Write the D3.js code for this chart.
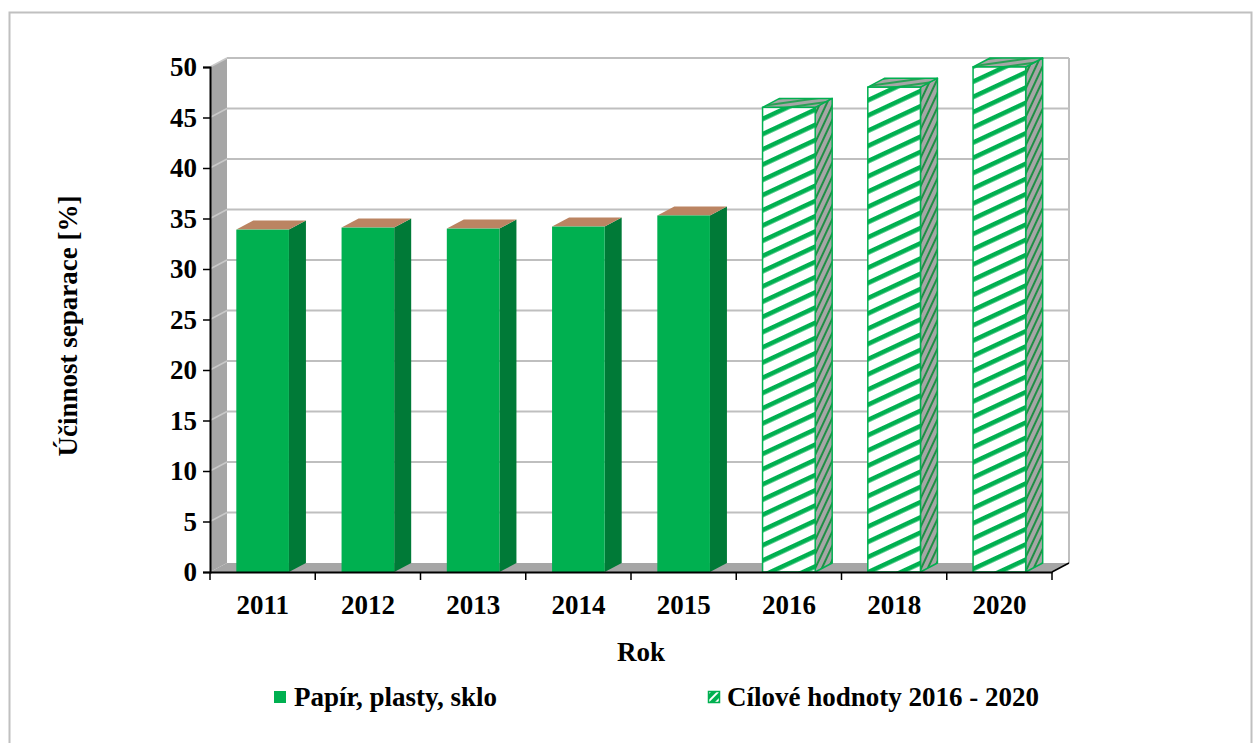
<!DOCTYPE html>
<html>
<head>
<meta charset="utf-8">
<script src="https://cdn.jsdelivr.net/npm/d3@7"></script>
<style>
  html, body { margin: 0; padding: 0; background: #fff; }
  svg { display: block; font-family: "Liberation Serif", "Times New Roman", serif; font-weight: bold; }
</style>
</head>
<body>
<svg id="chart" width="1255" height="743"></svg>
<script>
// ---- data ----
const categories = ["2011", "2012", "2013", "2014", "2015", "2016", "2018", "2020"];
const actualValues = [33.9, 34.1, 34.0, 34.2, 35.3, null, null, null];
const targetValues = [null, null, null, null, null, 46, 48, 50];
const yTickValues = [0, 5, 10, 15, 20, 25, 30, 35, 40, 45, 50];
const seriesNames = ["Papír, plasty, sklo", "Cílové hodnoty 2016 - 2020"];
const xTitle = "Rok";
const yTitle = "Účinnost separace [%]";

// ---- layout ----
const svg = d3.select("#chart");
const DX = 17, DY = -9;           // 3D depth offset
const x = d3.scaleBand().domain(categories).range([210, 1052]);
const y = d3.scaleLinear().domain([0, 50]).range([572, 67]);
const barFrac = 0.5;

const C = {
  front: "#00b050", side: "#007a37", top: "#bb8462",
  wall: "#a6a6a6", grid: "#bfbfbf", wallGrid: "#c9c9c9", hatch: "#00b050"
};

// ---- patterns ----
const defs = svg.append("defs");
const pf = defs.append("pattern").attr("id", "hatchFront")
  .attr("patternUnits", "userSpaceOnUse").attr("width", 14).attr("height", 13.8)
  .attr("patternTransform", "rotate(-25)");
pf.append("rect").attr("width", 14).attr("height", 13.8).attr("fill", "#fff");
pf.append("rect").attr("width", 14).attr("height", 4.6).attr("fill", C.hatch);

const ps = defs.append("pattern").attr("id", "hatchSide")
  .attr("patternUnits", "userSpaceOnUse").attr("width", 6).attr("height", 6)
  .attr("patternTransform", "rotate(-65)");
ps.append("rect").attr("width", 6).attr("height", 6).attr("fill", "#a6a6a6");
ps.append("rect").attr("width", 6).attr("height", 2).attr("fill", "#1f8f45");

const pt = defs.append("pattern").attr("id", "hatchTop")
  .attr("patternUnits", "userSpaceOnUse").attr("width", 6).attr("height", 5)
  .attr("patternTransform", "rotate(-8)");
pt.append("rect").attr("width", 6).attr("height", 5).attr("fill", "#a6a6a6");
pt.append("rect").attr("width", 6).attr("height", 2).attr("fill", "#2aa055");

const pl = defs.append("pattern").attr("id", "hatchLegend")
  .attr("patternUnits", "userSpaceOnUse").attr("width", 6).attr("height", 6)
  .attr("patternTransform", "rotate(-45)");
pl.append("rect").attr("width", 6).attr("height", 6).attr("fill", C.hatch);
pl.append("rect").attr("width", 6).attr("height", 2).attr("fill", "#fff");

// ---- outer border ----
svg.append("rect").attr("x", 9.5).attr("y", 12.5).attr("width", 1242).attr("height", 760)
  .attr("fill", "none").attr("stroke", "#c0c0c0").attr("stroke-width", 2);

const x0 = x.range()[0], x1 = x.range()[1];
const yB = y(0), yT = y(50);

// ---- walls ----
const pts = a => a.map(p => p.join(",")).join(" ");
// left wall
svg.append("polygon").attr("points", pts([[x0, yT], [x0 + DX, yT + DY], [x0 + DX, yB + DY], [x0, yB]]))
  .attr("fill", C.wall);
// floor
svg.append("polygon").attr("points", pts([[x0, yB], [x0 + DX, yB + DY], [x1 + DX, yB + DY], [x1, yB]]))
  .attr("fill", C.wall);
// back wall
svg.append("rect").attr("x", x0 + DX).attr("y", yT + DY).attr("width", x1 - x0).attr("height", yB - yT)
  .attr("fill", "#fff");

// gridlines on back wall and left wall
const grid = svg.append("g");
yTickValues.forEach(v => {
  if (v === 0) return;
  grid.append("line").attr("x1", x0 + DX).attr("x2", x1 + DX)
    .attr("y1", y(v) + DY).attr("y2", y(v) + DY)
    .attr("stroke", C.grid).attr("stroke-width", 2);
  grid.append("line").attr("x1", x0).attr("x2", x0 + DX)
    .attr("y1", y(v)).attr("y2", y(v) + DY)
    .attr("stroke", C.wallGrid).attr("stroke-width", 1.5);
});
// back wall right edge
svg.append("line").attr("x1", x1 + DX).attr("x2", x1 + DX).attr("y1", yT + DY).attr("y2", yB + DY)
  .attr("stroke", C.grid).attr("stroke-width", 2);

// ---- bars ----
function drawBar(g, cat, val, hatched) {
  const bw = x.bandwidth() * barFrac;
  const cx = x(cat) + x.bandwidth() / 2;
  const l = cx - bw / 2, r = cx + bw / 2;
  const t = y(val), b = y(0);
  const stroke = hatched ? C.hatch : "none";
  // side
  g.append("polygon").attr("points", pts([[r, t], [r + DX, t + DY], [r + DX, b + DY], [r, b]]))
    .attr("fill", hatched ? "url(#hatchSide)" : C.side)
    .attr("stroke", stroke).attr("stroke-width", 1.5).attr("stroke-linejoin", "round");
  // top
  g.append("polygon").attr("points", pts([[l, t], [l + DX, t + DY], [r + DX, t + DY], [r, t]]))
    .attr("fill", hatched ? "url(#hatchTop)" : C.top)
    .attr("stroke", stroke).attr("stroke-width", 1.5).attr("stroke-linejoin", "round");
  // front
  g.append("rect").attr("x", l).attr("y", t).attr("width", bw).attr("height", b - t)
    .attr("fill", hatched ? "url(#hatchFront)" : C.front)
    .attr("stroke", stroke).attr("stroke-width", 1.5);
}
const bars = svg.append("g");
categories.forEach((c, i) => {
  if (actualValues[i] != null) drawBar(bars, c, actualValues[i], false);
  if (targetValues[i] != null) drawBar(bars, c, targetValues[i], true);
});

// ---- axes ----
const yAxis = d3.axisLeft(y).tickValues(yTickValues).tickSize(7).tickPadding(6);
const gy = svg.append("g").attr("transform", `translate(${x0},0)`).call(yAxis);
gy.select(".domain").attr("stroke", "#000").attr("stroke-width", 2);
gy.selectAll(".tick line").attr("stroke", "#000").attr("stroke-width", 1.5);
gy.selectAll("text").attr("font-size", 27).attr("font-family", "Liberation Serif").attr("font-weight", "bold").attr("fill", "#000");

const xAxis = d3.axisBottom(x).tickSize(0).tickPadding(23);
const gx = svg.append("g").attr("transform", `translate(0,${yB})`).call(xAxis);
gx.select(".domain").attr("stroke", "#000").attr("stroke-width", 2);
gx.selectAll("text").attr("font-size", 27).attr("font-family", "Liberation Serif").attr("font-weight", "bold").attr("fill", "#000");
// boundary ticks
const bounds = categories.map(c => x(c)).concat([x1]);
svg.append("g").selectAll("line").data(bounds).join("line")
  .attr("x1", d => d).attr("x2", d => d).attr("y1", yB).attr("y2", yB + 8)
  .attr("stroke", "#000").attr("stroke-width", 1.5);
// floor right edge
svg.append("line").attr("x1", x1).attr("y1", yB).attr("x2", x1 + DX).attr("y2", yB + DY)
  .attr("stroke", "#000").attr("stroke-width", 1.5);

// ---- titles ----
svg.append("text").attr("x", (x0 + x1) / 2 + 10).attr("y", 661).attr("text-anchor", "middle")
  .attr("font-size", 27).text(xTitle);
svg.append("text").attr("transform", "translate(77,326) rotate(-90)").attr("text-anchor", "middle")
  .attr("font-size", 27).text(yTitle);

// ---- legend ----
const leg = svg.append("g");
leg.append("rect").attr("x", 274).attr("y", 691).attr("width", 12).attr("height", 12).attr("fill", C.front);
leg.append("text").attr("x", 294).attr("y", 706).attr("font-size", 27).text(seriesNames[0]);
leg.append("rect").attr("x", 708.5).attr("y", 691.5).attr("width", 11).attr("height", 11)
  .attr("fill", "url(#hatchLegend)").attr("stroke", C.hatch).attr("stroke-width", 1.5);
leg.append("text").attr("x", 727).attr("y", 706).attr("font-size", 27).text(seriesNames[1]);
</script>
</body>
</html>
